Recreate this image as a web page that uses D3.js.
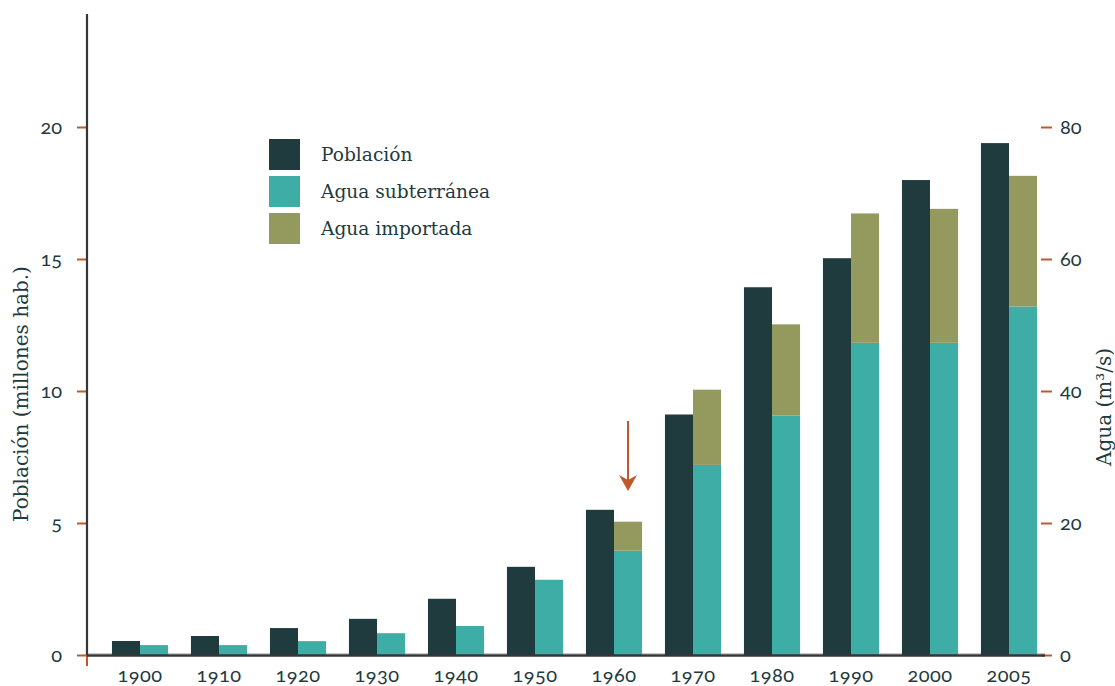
<!DOCTYPE html>
<html>
<head>
<meta charset="utf-8">
<script src="https://cdn.jsdelivr.net/npm/d3@7"></script>
<style>
  html, body { margin: 0; padding: 0; background: #fff; }
  svg { display: block; }
  .tick text { font-family: Lato, "Open Sans", sans-serif; font-variant-numeric: oldstyle-nums; font-size: 20px; fill: #1f3a3d; }
</style>
</head>
<body>
<svg id="chart" width="1115" height="686"></svg>
<script>
const years = ["1900","1910","1920","1930","1940","1950","1960","1970","1980","1990","2000","2005"];
const poblacion = [0.53, 0.72, 1.02, 1.37, 2.13, 3.34, 5.50, 9.11, 13.93, 15.03, 17.99, 19.39];
const aguaSubterranea = [1.5, 1.5, 2.1, 3.3, 4.4, 11.4, 15.8, 28.8, 36.3, 47.3, 47.3, 52.8];
const aguaImportada = [0, 0, 0, 0, 0, 0, 4.4, 11.4, 13.8, 19.6, 20.3, 19.8];
const leftTicks = [0, 5, 10, 15, 20];
const rightTicks = [0, 20, 40, 60, 80];
const legendLabels = ["Población", "Agua subterránea", "Agua importada"];

const colDark = "#1f3b3e", colTeal = "#3dada5", colOlive = "#94995e";
const colOrange = "#c0582a", colText = "#1f3a3d", colAxis = "#34363a";

const svg = d3.select("#chart");
const x0 = 87, yBase = 655;

const x = d3.scaleBand().domain(years).range([100.5, 1048.5]).paddingInner(0.29).paddingOuter(0.145);
const yL = d3.scaleLinear().domain([0, 20]).range([yBase, 127]);
const yR = d3.scaleLinear().domain([0, 80]).range([yBase, 127]);
const bw = x.bandwidth() / 2;

// light baseline under bars
svg.append("line").attr("x1", x0).attr("x2", 1045).attr("y1", yBase - 1.5).attr("y2", yBase - 1.5)
  .attr("stroke", "#c8c8c8").attr("stroke-width", 1);

// Population bars
svg.append("g").selectAll("rect").data(years).join("rect")
  .attr("x", d => x(d)).attr("width", bw)
  .attr("y", (d, i) => yL(poblacion[i])).attr("height", (d, i) => yBase - yL(poblacion[i]))
  .attr("fill", colDark);

// Groundwater bars
svg.append("g").selectAll("rect").data(years).join("rect")
  .attr("x", d => x(d) + bw).attr("width", bw)
  .attr("y", (d, i) => yR(aguaSubterranea[i])).attr("height", (d, i) => yBase - yR(aguaSubterranea[i]))
  .attr("fill", colTeal);

// Imported water bars (stacked)
svg.append("g").selectAll("rect").data(years.filter((d, i) => aguaImportada[i] > 0)).join("rect")
  .attr("x", d => x(d) + bw).attr("width", bw)
  .attr("y", d => { const i = years.indexOf(d); return yR(aguaSubterranea[i] + aguaImportada[i]); })
  .attr("height", d => { const i = years.indexOf(d); return yR(aguaSubterranea[i]) - yR(aguaSubterranea[i] + aguaImportada[i]); })
  .attr("fill", colOlive);

// Left axis
const gL = svg.append("g").attr("transform", `translate(${x0},0)`)
  .call(d3.axisLeft(yL).tickValues(leftTicks).tickSize(10).tickPadding(15));
gL.select(".domain").remove();
gL.selectAll(".tick line").attr("stroke", colOrange).attr("stroke-width", 2);
svg.append("line").attr("x1", x0).attr("x2", x0).attr("y1", 14).attr("y2", yBase)
  .attr("stroke", colAxis).attr("stroke-width", 2.2);
svg.append("line").attr("x1", x0).attr("x2", x0).attr("y1", yBase).attr("y2", 666)
  .attr("stroke", colOrange).attr("stroke-width", 2);

// Right axis
const gR = svg.append("g").attr("transform", `translate(1041,0)`)
  .call(d3.axisRight(yR).tickValues(rightTicks).tickSize(11).tickPadding(8));
gR.select(".domain").remove();
gR.selectAll(".tick line").attr("stroke", colOrange).attr("stroke-width", 2);

// Baseline
svg.append("line").attr("x1", x0).attr("x2", 1045).attr("y1", yBase + 0.5).attr("y2", yBase + 0.5)
  .attr("stroke", colAxis).attr("stroke-width", 2.4);

// X axis labels
const gX = svg.append("g").attr("transform", `translate(0,${yBase})`)
  .call(d3.axisBottom(x).tickSize(0).tickPadding(13));
gX.select(".domain").remove();
gX.selectAll(".tick text").style("letter-spacing", "0.4px");

// Axis titles
svg.append("text").attr("transform", "translate(28,394) rotate(-90)")
  .attr("text-anchor", "middle").attr("font-family", "'DejaVu Serif', serif").attr("font-size", 20)
  .attr("fill", colText).text("Población (millones hab.)");
svg.append("text").attr("transform", "translate(1111,407) rotate(-90)")
  .attr("text-anchor", "middle").attr("font-family", "'DejaVu Serif', serif").attr("font-size", 20)
  .attr("fill", colText).text("Agua (m³/s)");

// Legend
const legColors = [colDark, colTeal, colOlive];
const leg = svg.append("g").attr("transform", "translate(269,139)");
legendLabels.forEach((lab, i) => {
  const g = leg.append("g").attr("transform", `translate(0,${i * 37})`);
  g.append("rect").attr("width", 31).attr("height", 31).attr("fill", legColors[i]);
  g.append("text").attr("x", 52).attr("y", 15.5).attr("dy", "0.35em")
    .attr("font-family", "'DejaVu Serif', serif").attr("font-size", 18.6).attr("fill", colText).text(lab);
});

// Arrow pointing at 1960 imported water
const ax = x("1960") + bw * 1.5;
svg.append("line").attr("x1", ax).attr("x2", ax).attr("y1", 421).attr("y2", 480)
  .attr("stroke", colOrange).attr("stroke-width", 2);
svg.append("path")
  .attr("d", `M${ax},491 L${ax - 9},475 L${ax},480 L${ax + 9},475 Z`)
  .attr("fill", colOrange);
</script>
</body>
</html>
